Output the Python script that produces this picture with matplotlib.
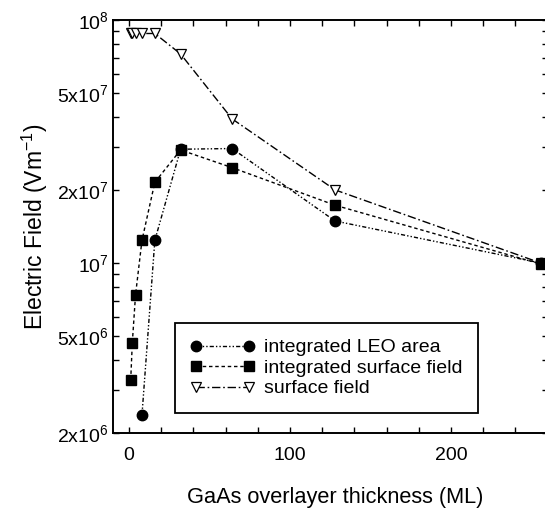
import matplotlib
matplotlib.use("Agg")
import matplotlib.pyplot as plt
from matplotlib.ticker import FixedLocator, LogLocator, MultipleLocator, NullFormatter

plt.rcParams['font.family'] = ['Liberation Sans', 'DejaVu Sans']
plt.rcParams['mathtext.fontset'] = 'custom'
plt.rcParams['mathtext.rm'] = 'Liberation Sans'
plt.rcParams['mathtext.it'] = 'Liberation Sans:italic'
plt.rcParams['mathtext.bf'] = 'Liberation Sans:bold'

# Data
leo_x = [8, 16, 32, 64, 128, 256]
leo_y = [2.37e6, 1.24e7, 2.94e7, 2.96e7, 1.49e7, 1.0e7]

isf_x = [1, 2, 4, 8, 16, 32, 64, 128, 256]
isf_y = [3.3e6, 4.7e6, 7.4e6, 1.24e7, 2.15e7, 2.92e7, 2.47e7, 1.73e7, 9.9e6]

sf_x = [1, 2, 4, 8, 16, 32, 64, 128, 256]
sf_y = [8.8e7, 8.8e7, 8.8e7, 8.8e7, 8.8e7, 7.25e7, 3.92e7, 2.0e7, 1.0e7]

labels = ["integrated LEO area", "integrated surface field", "surface field"]
ytick_vals = [2e6, 5e6, 1e7, 2e7, 5e7, 1e8]
ytick_labels = [r"2x10$^6$", r"5x10$^6$", r"10$^7$", r"2x10$^7$", r"5x10$^7$", r"10$^8$"]
xtick_vals = [0, 100, 200]

W, H = 545, 514
fig = plt.figure(figsize=(W/100, H/100), dpi=100)
left, right, top, bottom = 113, 547.5, 20, 433
ax = fig.add_axes([left/W, (H-bottom)/H, (right-left)/W, (bottom-top)/H])

ax.plot(sf_x, sf_y, color='black', lw=1.0, dashes=(6, 2, 1.2, 2),
        marker='v', ms=7.5, mfc='white', mec='black', mew=0.9, label=labels[2], zorder=2)
ax.plot(leo_x, leo_y, color='black', lw=1.0, dashes=(3, 1.5, 1, 1.5, 1, 1.5),
        marker='o', ms=7.5, mfc='black', mec='black', label=labels[0], zorder=3)
ax.plot(isf_x, isf_y, color='black', lw=1.0, dashes=(2.5, 2),
        marker='s', ms=7, mfc='black', mec='black', label=labels[1], zorder=4)

ax.set_yscale('log')
ax.set_xlim(-10, 260)
ax.set_ylim(2e6, 1e8)
ax.yaxis.set_major_locator(FixedLocator(ytick_vals))
ax.set_yticklabels(ytick_labels)
ax.yaxis.set_minor_locator(LogLocator(base=10, subs=range(2, 10)))
ax.yaxis.set_minor_formatter(NullFormatter())
ax.set_xticks(xtick_vals)
ax.xaxis.set_minor_locator(MultipleLocator(20))

ax.tick_params(which='both', direction='in', top=True, right=True, length=4, width=1)
ax.tick_params(axis='x', which='major', labelsize=14, pad=10)
ax.tick_params(axis='y', which='major', labelsize=14, pad=3)
for s in ax.spines.values():
    s.set_linewidth(1.4)

ax.set_xlabel("GaAs overlayer thickness (ML)", fontsize=15.7, labelpad=20)
ax.xaxis.set_label_coords((335-left)/(right-left), -0.13)
ax.set_ylabel(r"Electric Field (Vm$^{-1}$)", fontsize=16.5, labelpad=5)

h, l = ax.get_legend_handles_labels()
order = [1, 2, 0]
leg = ax.legend([h[i] for i in order], [l[i] for i in order],
                loc='lower left', bbox_to_anchor=((175-left)/(right-left), (bottom-413)/(bottom-top)),
                borderaxespad=0, fontsize=14, numpoints=2, handlelength=3.3,
                handletextpad=0.5, labelspacing=0.15, fancybox=False, framealpha=1,
                edgecolor='black', borderpad=0.8)
leg.get_frame().set_linewidth(1.3)

fig.savefig("out.png", dpi=100)
